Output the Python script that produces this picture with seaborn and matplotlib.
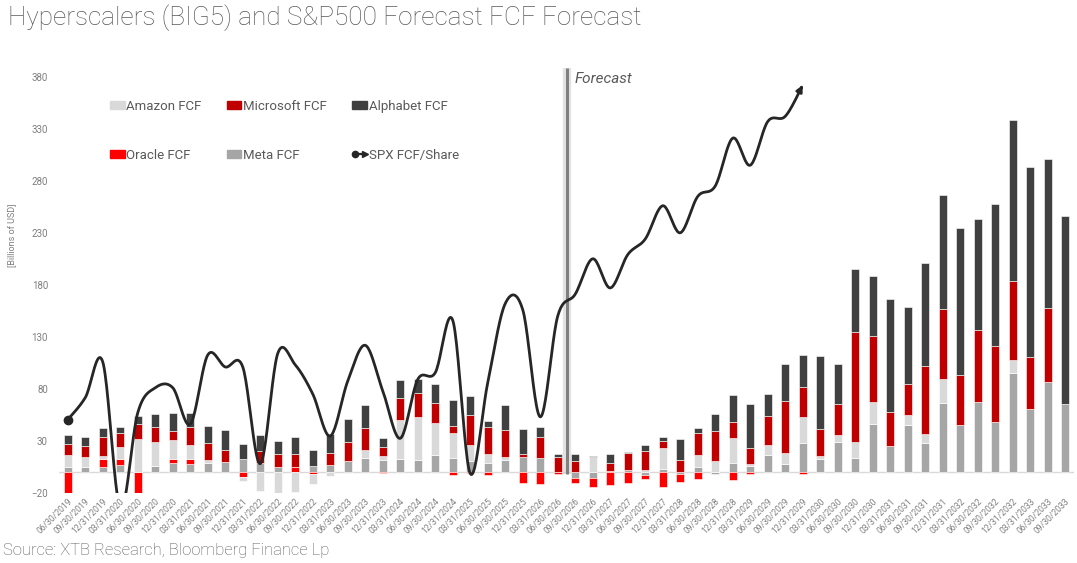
import numpy as np
import pandas as pd
import matplotlib
matplotlib.use("Agg")
import matplotlib.pyplot as plt
import seaborn as sns
from matplotlib.patches import Patch
from matplotlib.lines import Line2D
from matplotlib.legend_handler import HandlerBase

# ---------------- data ----------------
dates = [
    "06/30/2019", "09/30/2019", "12/31/2019", "03/31/2020", "06/30/2020", "09/30/2020",
    "12/31/2020", "03/31/2021", "06/30/2021", "09/30/2021", "12/31/2021", "03/31/2022",
    "06/30/2022", "09/30/2022", "12/31/2022", "03/31/2023", "06/30/2023", "09/30/2023",
    "12/31/2023", "03/31/2024", "06/30/2024", "09/30/2024", "12/31/2024", "03/31/2025",
    "06/30/2025", "09/30/2025", "12/31/2025", "03/31/2026", "06/30/2026", "09/30/2026",
    "12/31/2026", "03/31/2027", "06/30/2027", "09/30/2027", "12/31/2027", "03/31/2028",
    "06/30/2028", "09/30/2028", "12/31/2028", "03/31/2029", "06/30/2029", "09/30/2029",
    "12/31/2029", "03/31/2030", "06/30/2030", "09/30/2030", "12/31/2030", "03/31/2031",
    "06/30/2031", "09/30/2031", "12/31/2031", "03/31/2032", "06/30/2032", "09/30/2032",
    "12/31/2032", "03/31/2033", "06/30/2033", "09/30/2033",
]

meta_fcf = [4.8, 5.1, 4.8, 7.1, 0.0, 6.1, 9.0, 7.4, 8.7, 9.6, 12.5, 9.0, 4.8, 0.0,
            5.5, 6.7, 10.6, 13.5, 11.2, 12.8, 11.2, 16.3, 13.8, 10.6, 9.0, 11.2, 14.4, 13.1,
            0.0, -5.4, -5.4, 1.0, 1.5, -3.2, 2.6, -2.2, 5.1, -2.0, 9.0, 5.8, 16.0, 8.0,
            27.6, 12.2, 29.2, 13.8, 45.8, 25.0, 44.9, 28.2, 66.0, 44.9, 67.3, 48.1, 95.5,
            60.9, 86.5, 65.1]

oracle_fcf = [-22.0, 0.0, 7.4, 5.1, -22.0, 0.0, 3.5, 5.1, 0.0, 0.0, -4.5, 0.0, 0.0, 5.0,
              -1.6, 0.0, 0.0, 0.0, -1.3, 0.0, 0.0, 0.0, -2.9, -1.0, -3.2, 0.0, -10.3, -11.9,
              -2.0, -5.1, -9.0, -12.5, -10.3, -3.8, -14.4, -7.4, -7.1, 0.0, -8.0, -2.2, 0.0, 0.0,
              -2.2, 0.0, 0.0, 0.0, 0.0, 0.0, 0.0, 0.0, 0.0, 0.0, 0.0, 0.0, 0.0, 0.0, 0.0, 0.0]

amazon_fcf = [11.2, 9.3, 3.5, 12.2, 31.4, 23.1, 18.3, 13.5, 3.2, 0.0, -4.5, -18.5, -20.5, -19.5,
              -9.6, -3.8, 0.0, 7.4, 4.2, 37.2, 42.0, 31.1, 24.0, 15.1, 8.7, 3.2, 0.0, 0.0,
              0.0, 0.0, 14.4, 0.0, 0.0, 1.5, 20.8, 0.0, 11.2, 10.6, 24.0, 1.6, 9.6, 9.9,
              25.6, 3.2, 6.4, 15.1, 21.5, 0.0, 9.6, 8.7, 23.1, 0.0, 0.0, 0.0, 11.9, 0.0, 0.0, 0.0]

microsoft_fcf = [10.6, 10.3, 17.9, 13.5, 14.4, 14.4, 8.7, 17.6, 16.3, 11.2, 0.0, 11.5, 12.8, 12.2,
                 0.0, 11.9, 18.3, 21.2, 9.0, 20.8, 23.1, 19.2, 6.4, 28.8, 26.0, 25.6, 2.6, 20.5,
                 14.4, 10.6, 0.0, 8.0, 17.0, 18.6, 6.4, 11.2, 21.5, 28.8, 15.1, 16.0, 28.2, 50.3,
                 28.5, 25.6, 29.5, 105.8, 63.5, 32.7, 29.8, 65.1, 67.9, 48.1, 68.9, 73.1, 76.3,
                 49.7, 71.5, 0.0]

alphabet_fcf = [9.3, 9.0, 8.3, 5.4, 8.3, 11.9, 17.0, 12.8, 16.3, 19.2, 14.1, 14.8, 12.2, 16.0,
                15.7, 17.6, 21.8, 22.4, 8.0, 17.3, 13.5, 17.6, 25.0, 18.6, 5.4, 24.4, 24.0, 9.6,
                2.9, 6.4, 1.0, 8.7, 0.5, 5.8, 3.8, 20.8, 4.8, 16.7, 25.6, 41.7, 21.5, 35.3,
                30.8, 70.5, 39.1, 60.3, 57.7, 109.0, 74.7, 98.7, 109.3, 142.0, 106.7, 136.9,
                154.8, 183.0, 142.6, 181.1]

spx_fcf_share = [50.3, 71.5, 105.8, -35.0, 57.0, 81.0, 81.0, 46.0, 112.5, 101.0, 101.0, 8.0,
                 114.0, 103.0, 75.0, 34.6, 87.5, 121.8, 78.0, 32.4, 89.0, 95.5, 145.8, -1.5,
                 86.0, 162.0, 156.0, 53.0, 150.0, 171.0, 205.0, 177.0, 209.0, 224.0, 256.0,
                 230.0, 265.0, 275.0, 321.0, 295.0, 337.0, 342.0, 372.0]

series = [  # stacking order (bottom -> top)
    ("Meta FCF", meta_fcf, "#a6a6a6"),
    ("Oracle FCF", oracle_fcf, "#ff0000"),
    ("Amazon FCF", amazon_fcf, "#d9d9d9"),
    ("Microsoft FCF", microsoft_fcf, "#c00000"),
    ("Alphabet FCF", alphabet_fcf, "#404040"),
]
line_color = "#262626"
text_gray = "#595959"
tick_gray = "#7f7f7f"

# ---------------- figure ----------------
sns.set_theme(style="white")
plt.rcParams["font.family"] = ["Roboto", "DejaVu Sans"]

fig = plt.figure(figsize=(10.77, 5.63), dpi=100)
ax = fig.add_axes([0.0548, 0.1247, 0.9424, 0.7389])

n = len(dates)
pos_base = np.zeros(n)
neg_base = np.zeros(n)
for name, vals, col in series:
    v = np.asarray(vals, dtype=float)
    bottom = np.where(v >= 0, pos_base, neg_base)
    df = pd.DataFrame({"date": dates, "value": v})
    sns.barplot(data=df, x="date", y="value", order=dates, bottom=bottom,
                color=col, saturation=1, width=0.45, errorbar=None,
                edgecolor="white", linewidth=0.4, ax=ax, zorder=2)
    pos_base = pos_base + np.where(v > 0, v, 0)
    neg_base = neg_base + np.where(v < 0, v, 0)


# smooth line (Bezier through the data points, like a spreadsheet smoothed line)
def smooth_curve(xs, ys, steps=24):
    P = np.column_stack([xs, ys]).astype(float)
    out = []
    for i in range(len(P) - 1):
        p0 = P[i - 1] if i > 0 else P[i]
        p1, p2 = P[i], P[i + 1]
        p3 = P[i + 2] if i + 2 < len(P) else P[i + 1]
        c1 = p1 + (p2 - p0) / 6.0
        c2 = p2 - (p3 - p1) / 6.0
        t = np.linspace(0, 1, steps)[:, None]
        seg = (1 - t) ** 3 * p1 + 3 * (1 - t) ** 2 * t * c1 + 3 * (1 - t) * t ** 2 * c2 + t ** 3 * p2
        out.append(seg if i == 0 else seg[1:])
    return np.vstack(out)


lx = np.arange(len(spx_fcf_share))
curve = smooth_curve(lx, spx_fcf_share)
sns.lineplot(x=curve[:-3, 0], y=curve[:-3, 1], sort=False, estimator=None,
             color=line_color, linewidth=2.0, ax=ax, zorder=4)
ax.plot([lx[0]], [spx_fcf_share[0]], "o", color=line_color, ms=6, zorder=5)
ax.annotate("", xy=(curve[-1, 0], curve[-1, 1]), xytext=(curve[-4, 0], curve[-4, 1]),
            arrowprops=dict(arrowstyle="-|>", color=line_color, lw=2.0,
                            mutation_scale=9, shrinkA=0, shrinkB=0), zorder=5)

# forecast divider
fx = 28.5
ax.plot([fx, fx], [-2, 388], color="#c8c8c8", lw=6, alpha=0.5, clip_on=False, zorder=3,
        solid_capstyle="butt")
ax.plot([fx, fx], [-2, 388], color="#808080", lw=2.2, clip_on=False, zorder=3,
        solid_capstyle="butt")
ax.text(fx + 0.45, 378, "Forecast", fontsize=11, style="italic", color=text_gray,
        va="center", ha="left")

# axes
ax.axhline(0, color="#d9d9d9", lw=1.0, zorder=1)
ax.set_ylim(-20, 380)
ax.set_xlim(-0.5, n - 0.5)
ax.set_yticks(np.arange(-20, 381, 50))
for s in ax.spines.values():
    s.set_visible(False)
ax.tick_params(axis="y", length=0, pad=8, labelsize=7, labelcolor=tick_gray)
ax.tick_params(axis="x", length=0, pad=3, labelsize=6.2, labelcolor=tick_gray)
ax.set_xticks(np.arange(n))
ax.set_xticklabels(dates, rotation=45, ha="right", va="top", rotation_mode="anchor")
ax.set_xlabel("")
ax.set_ylabel("")
ax.grid(False)

fig.text(0.011, 1 - 235 / 563, "[Billions of USD]", rotation=90, fontsize=6.5,
         color=tick_gray, ha="center", va="center")


# legend
class DotArrowHandler(HandlerBase):
    def create_artists(self, legend, orig_handle, xdescent, ydescent, width, height,
                       fontsize, trans):
        y = height / 2 - ydescent
        x0, x1 = -xdescent + 2, width - xdescent
        ln = Line2D([x0, x1 - 2], [y, y], color=line_color, lw=1.6, transform=trans)
        dot = Line2D([x0], [y], marker="o", ms=4.5, color=line_color, transform=trans)
        arr = Line2D([x1 - 1.5], [y], marker=">", ms=4.5, color=line_color, transform=trans)
        return [ln, dot, arr]


spx_handle = Line2D([], [], color=line_color)
cmap = {name: col for name, _, col in series}
handles = [Patch(color=cmap["Amazon FCF"]), Patch(color=cmap["Oracle FCF"]),
           Patch(color=cmap["Microsoft FCF"]), Patch(color=cmap["Meta FCF"]),
           Patch(color=cmap["Alphabet FCF"]), spx_handle]
labels = ["Amazon FCF", "Oracle FCF", "Microsoft FCF", "Meta FCF", "Alphabet FCF",
          "SPX FCF/Share"]
leg = ax.legend(handles, labels, ncol=3, loc="upper left",
                bbox_to_anchor=(110 / 1077, 1 - 100 / 563), bbox_transform=fig.transFigure,
                frameon=False, fontsize=9.5, labelcolor=text_gray, handlelength=1.1,
                handleheight=0.55, handletextpad=0.15, columnspacing=1.9, labelspacing=2.7,
                borderaxespad=0, borderpad=0,
                handler_map={spx_handle: DotArrowHandler()})

# title & source
fig.text(0.007, 1 - 18 / 563, "Hyperscalers (BIG5) and S&P500 Forecast FCF Forecast",
         fontsize=18.8, color=text_gray, ha="left", va="center", fontweight="light")
fig.text(0.003, 1 - 550 / 563, "Source: XTB Research, Bloomberg Finance Lp",
         fontsize=12, color=text_gray, ha="left", va="center", fontweight="light")

fig.savefig("out.png", dpi=100)
